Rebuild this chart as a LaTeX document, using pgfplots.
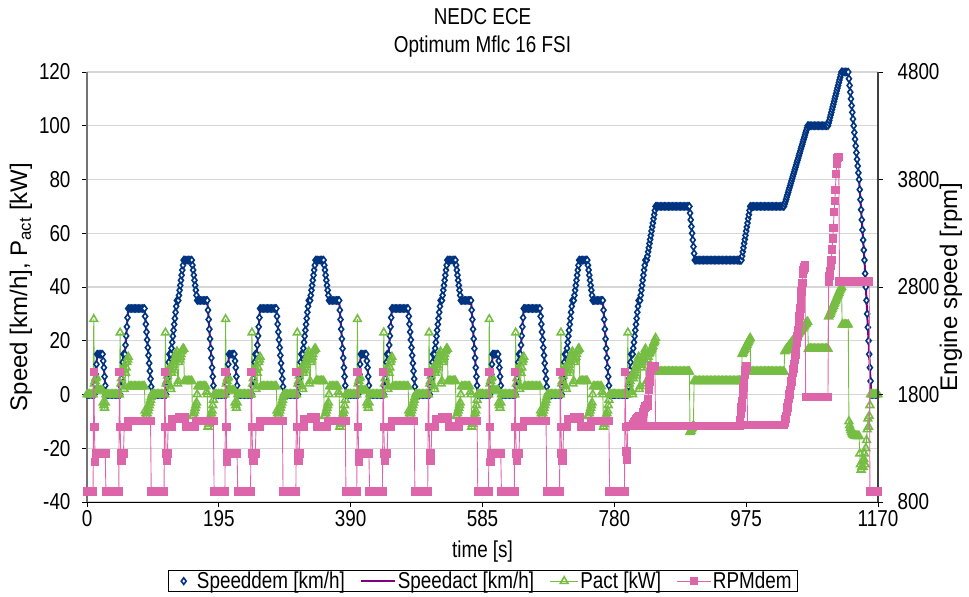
\documentclass[border=0pt]{standalone}
\usepackage{fontspec}
\setmainfont{Liberation Sans}[FakeStretch=0.82]
\newfontfamily\vfam{Liberation Sans}
\usepackage{pgfplots}
\pgfplotsset{compat=1.18}
\usepackage{pgfplotstable}

\definecolor{cdem}{RGB}{0,51,128}
\definecolor{cact}{RGB}{128,0,128}
\definecolor{cpow}{RGB}{118,190,67}
\definecolor{crpm}{RGB}{221,102,170}
\newcommand\fs{\fontsize{23bp}{26bp}\selectfont}
\newcommand\vs{\vfam\fontsize{24bp}{27bp}\selectfont}

% one ECE urban cycle (0-195 s), repeated four times: t, speed, power, rpm
\pgfplotstableread{
t v p r
0 0 0 900
2 0 0 900
4 0 0 900
6 0 0 900
8 0 0 900
9 0 0 900
10 0 28 2010
11 0 4 1500
12 3.75 5 1170
13 7.5 6 1250
14 11.25 6.5 1250
15 15 2 1250
16 15 1.5 1250
18 15 1.5 1250
20 15 1.5 1250
22 15 1.5 1250
23 15 1.5 1250
24 12.5 -3 1250
25 10 -4 1250
26 6.67 -5 1250
27 3.33 -3 1250
28 0 0 900
30 0 0 900
32 0 0 900
34 0 0 900
36 0 0 900
38 0 0 900
40 0 0 900
42 0 0 900
44 0 0 900
46 0 0 900
47 0 0 900
48 0 0 2010
49 0 23 1500
50 3 4 1250
51 6 6 1180
52 9 8 1250
53 12 9 1250
54 15 10 1250
55 15 2 1500
56 15 3 1500
57 18.4 8 1500
58 21.8 10 1500
59 25.2 12 1500
60 28.6 13 1500
61 32 14 1556
62 32 3 1556
64 32 3 1556
66 32 3 1556
68 32 3 1556
70 32 3 1556
72 32 3 1556
74 32 3 1556
76 32 3 1556
78 32 3 1556
80 32 3 1556
82 32 3 1556
84 32 3 1556
85 32 3 1556
86 29.09 -6 1556
87 26.18 -7 1556
88 23.27 -8 1556
89 20.36 -7 1556
90 17.45 -6 1556
91 14.55 -5 1556
92 11.64 -4 1556
93 8.73 -3 1556
94 5.82 -2 1556
95 2.91 -1 900
96 0 0 900
98 0 0 900
100 0 0 900
102 0 0 900
104 0 0 900
106 0 0 900
108 0 0 900
110 0 0 900
112 0 0 900
114 0 0 900
115 0 0 2010
116 0 23 1500
117 0 4 1250
118 3 5 1180
119 6 7 1250
120 9 8 1500
121 12 9 1500
122 15 10 1500
123 15 3 1500
124 15 2 1500
125 17.2 8 1500
126 19.4 9 1572
127 21.7 10 1572
128 23.9 11 1572
129 26.1 12 1572
130 28.3 13 1572
131 30.6 14 1572
132 32.8 15 1572
133 35 16 1572
134 35 4 1572
135 35 5 1572
136 36.9 12 1588
137 38.8 13 1588
138 40.6 14 1588
139 42.5 15 1588
140 44.4 16 1588
141 46.3 16.5 1588
142 48.1 17 1588
143 50 17 1588
144 50 5 1588
146 50 5 1503
148 50 5 1503
150 50 5 1503
152 50 5 1503
154 50 5 1503
155 50 5 1503
156 48.1 -8 1503
157 46.3 -8 1503
158 44.4 -7 1503
159 42.5 -6 1503
160 40.6 -5 1503
161 38.8 -4 1556
162 36.9 -3 1556
163 35 0 1556
164 35 3 1556
166 35 3 1556
168 35 3 1556
170 35 3 1556
172 35 3 1556
174 35 3 1556
176 35 3 1556
177 35 1 1556
178 35 0 1556
179 31.4 -12 1556
180 27.9 -11 1556
181 24.3 -10 1556
182 20.7 -9 1556
183 17.1 -8 1556
184 13.6 -7 1556
185 10 -6 1556
186 6.67 -4 1556
187 3.33 -2 1556
188 0 0 900
190 0 0 900
192 0 0 900
194 0 0 900
195 0 0 900
}\ece

% extra-urban part (780-1170 s)
\pgfplotstableread{
t v p r
780 0 0 900
782 0 0 900
784 0 0 900
786 0 0 900
788 0 0 900
790 0 0 900
792 0 0 900
794 0 0 900
795 0 0 900
796 0 0 2010
797 0 0 1500
798 0 0 1270
799 0 0 1190
800 0 23 1510
801 3 2 1510
802 6 4 1510
803 9 5 1510
804 12 6 1510
805 15 7 1510
806 15 1 1510
807 15 0 1510
808 17.2 6 1520
809 19.4 7 1530
810 21.7 8 1540
811 23.9 9 1550
812 26.1 10 1560
813 28.3 11 1570
814 30.6 12 1580
815 32.8 13 1590
816 35 14 1600
817 35 2 1510
818 35 3 1510
819 36.9 10 1560
820 38.8 11 1580
821 40.6 12 1600
822 42.5 13 1620
823 44.4 14 1640
824 46.3 15 1660
825 48.1 16 1680
826 50 17 1690
827 50 4 1510
828 50 5 1510
829 51.5 13 1700
830 53.1 14 1760
831 54.6 15 1840
832 56.2 15.5 1920
833 57.7 16 1990
834 59.2 16.5 2040
835 60.8 17 2060
836 62.3 17.5 2060
837 63.8 18 2060
838 65.4 19 2060
839 66.9 19.5 2060
840 68.5 20 2060
841 70 21 1510
842 70 8.5 1510
844 70 8.5 1510
846 70 8.5 1510
848 70 8.5 1510
850 70 8.5 1510
852 70 8.5 1510
854 70 8.5 1510
856 70 8.5 1510
858 70 8.5 1510
860 70 8.5 1510
862 70 8.5 1510
864 70 8.5 1510
866 70 8.5 1510
868 70 8.5 1510
870 70 8.5 1510
872 70 8.5 1510
874 70 8.5 1510
876 70 8.5 1510
878 70 8.5 1510
880 70 8.5 1510
882 70 8.5 1510
884 70 8.5 1510
886 70 8.5 1510
888 70 8.5 1510
890 70 8.5 1510
891 70 8.5 1510
892 67.5 -14 1510
893 65 -13.5 1510
894 62.5 -13 1510
895 60 -12.5 1510
896 57.5 -12 1510
897 55 -11.5 1510
898 52.5 5 1510
899 50 5 1510
900 50 5 1510
902 50 5 1510
904 50 5 1510
906 50 5 1510
908 50 5 1510
910 50 5 1510
912 50 5 1510
914 50 5 1510
916 50 5 1510
918 50 5 1510
920 50 5 1510
922 50 5 1510
924 50 5 1510
926 50 5 1510
928 50 5 1510
930 50 5 1510
932 50 5 1510
934 50 5 1510
936 50 5 1510
938 50 5 1510
940 50 5 1510
942 50 5 1510
944 50 5 1510
946 50 5 1510
948 50 5 1510
950 50 5 1510
952 50 5 1510
954 50 5 1510
956 50 5 1510
958 50 5 1510
960 50 5 1510
962 50 5 1510
964 50 5 1510
965 50 5 1510
966 50 5 1560
967 50 5 1620
968 50 5 1680
969 51.5 15 1740
970 53.1 15.5 1800
971 54.6 16 1860
972 56.2 16.5 1920
973 57.7 17 1980
974 59.2 17.5 2030
975 60.8 18 2060
976 62.3 18.5 2060
977 63.8 19 1516
978 65.4 19.5 1516
979 66.9 20 1516
980 68.5 20.5 1516
981 70 21 1516
982 70 8.5 1516
984 70 8.5 1516
986 70 8.5 1516
988 70 8.5 1516
990 70 8.5 1516
992 70 8.5 1516
994 70 8.5 1516
996 70 8.5 1516
998 70 8.5 1516
1000 70 8.5 1516
1002 70 8.5 1516
1004 70 8.5 1516
1006 70 8.5 1516
1008 70 8.5 1516
1010 70 8.5 1516
1012 70 8.5 1516
1014 70 8.5 1516
1016 70 8.5 1516
1018 70 8.5 1516
1020 70 8.5 1516
1022 70 8.5 1516
1024 70 8.5 1516
1026 70 8.5 1516
1028 70 8.5 1516
1030 70 8.5 1516
1031 70 8.5 1516
1032 70.86 16 1540
1033 71.71 16.3 1570
1034 72.57 16.6 1600
1035 73.43 17 1640
1036 74.29 17.3 1680
1037 75.14 17.6 1720
1038 76 18 1760
1039 76.86 18.3 1800
1040 77.71 18.6 1840
1041 78.57 19 1880
1042 79.43 19.3 1920
1043 80.29 19.6 1960
1044 81.14 20 2000
1045 82 20.3 2040
1046 82.86 20.6 2080
1047 83.71 21 2120
1048 84.57 21.3 2170
1049 85.43 21.6 2220
1050 86.29 22 2280
1051 87.14 22.3 2340
1052 88 22.6 2400
1053 88.86 23 2460
1054 89.71 23.3 2530
1055 90.57 23.6 2600
1056 91.43 24 2680
1057 92.29 24.3 2760
1058 93.14 24.6 2840
1059 94 25 2920
1060 94.86 25.3 2960
1061 95.71 25.6 2980
1062 96.57 26 3000
1063 97.43 26.3 1780
1064 98.29 26.6 1780
1065 99.14 27 1780
1066 100 27 1780
1067 100 17 1780
1068 100 17 1780
1070 100 17 1780
1072 100 17 1780
1074 100 17 1780
1076 100 17 1780
1078 100 17 1780
1080 100 17 1780
1082 100 17 1780
1084 100 17 1780
1086 100 17 1780
1088 100 17 1780
1090 100 17 1780
1092 100 17 1780
1094 100 17 1780
1096 100 17 1780
1097 101 29 2850
1098 102 29.5 2900
1099 103 30 2950
1100 104 30.6 3000
1101 105 31.2 3050
1102 106 31.8 3150
1103 107 32.4 3250
1104 108 33 3350
1105 109 33.6 3500
1106 110 34.2 3600
1107 111 34.8 3700
1108 112 35.4 3850
1109 113 36 3950
1110 114 36.6 4000
1111 115 37.2 4010
1112 116 37.8 4010
1113 117 38.4 2850
1114 118 39 2850
1115 119 39.5 2850
1116 120 40 2850
1117 120 26 2850
1118 120 26 2850
1120 120 26 2850
1122 120 26 2850
1124 120 26 2850
1126 120 26 2850
1127 117.5 -10 2850
1128 115 -11.5 2850
1129 112.5 -12.5 2850
1130 110 -13.3 2850
1131 107.5 -14 2850
1132 105 -14.5 2850
1133 102.5 -14.8 2850
1134 100 -15 2850
1135 97.5 -15.2 2850
1136 95 -15.3 2850
1137 92.5 -15.4 2850
1138 90 -15.5 2850
1139 87.5 -15.5 2850
1140 85 -15.5 2850
1141 82.5 -15.5 2850
1142 80 -15.5 2850
1143 76.25 -22 2850
1144 72.5 -26 2850
1145 68.75 -28 2850
1146 65 -27 2850
1147 61.25 -25 2850
1148 57.5 -27 2850
1149 53.75 -24 2850
1150 50 -22 2850
1151 45 -26 2850
1152 40 -20 2850
1153 35 -17 2850
1154 30 -13 2850
1155 25 -9 2850
1156 20 -12 2850
1157 15 -8 2850
1158 10 -4 900
1159 5 0 900
1160 0 0 900
1162 0 0 900
1164 0 0 900
1166 0 0 900
1168 0 0 900
1170 0 0 900
}\eudc

\pgfplotsset{
  dem/.style={only marks, mark=diamond*, mark size=3.3bp,
    mark options={draw=cdem, fill=white, line width=1.6bp}},
  act/.style={no marks, draw=cact, line width=2bp},
  pow/.style={draw=cpow, line width=0.9bp, mark=triangle, mark size=4.4bp,
    mark options={draw=cpow, line width=1.6bp}},
  rpm/.style={draw=crpm, line width=0.9bp, mark=square*, mark size=3.7bp,
    mark options={draw=crpm, fill=crpm}},
  short legend/.style={legend image code/.code={\path (0cm,0cm) (0.8cm,0cm);
    \draw[mark repeat=2,mark phase=2,##1]
    plot coordinates {(0cm,0cm) (0.4cm,0cm) (0.8cm,0cm)};}},
  mid legend/.style={legend image code/.code={\draw[mark repeat=2,mark phase=2,##1]
    plot coordinates {(0cm,0cm) (0.5cm,0cm) (1cm,0cm)};}},
  long legend/.style={legend image code/.code={\draw[mark repeat=2,mark phase=2,##1]
    plot coordinates {(0cm,0cm) (0.6cm,0cm) (1.2cm,0cm)};}},
  base/.style={at={(0,0)}, anchor=south west, scale only axis,
    width=791bp, height=430bp, xmin=0, xmax=1170,
    tick align=outside, major tick length=5bp,
    ticklabel style={font=\fs},
    /pgf/number format/.cd, 1000 sep={}, assume math mode=true},
}

\begin{document}
\begin{tikzpicture}
\useasboundingbox (-87bp,-95bp) rectangle (882bp,502bp);

\begin{axis}[base,
  ymin=-40, ymax=120,
  xtick={0,195,390,585,780,975,1170},
  ytick={-40,-20,0,20,40,60,80,100,120},
  yticklabel style={xshift=-8bp},
  axis x line*=bottom, axis y line*=left, tick pos=left,
  x axis line style={black, line width=1bp},
  y axis line style={black!55, line width=1.8bp},
  every tick/.style={black, line width=0.8bp},
  ymajorgrids, major grid style={draw=black!16, line width=1.2bp},
  xlabel={time [s]},
  xlabel style={font=\fs, at={(axis description cs:0.5,-0.116)}, anchor=center},
  ylabel={Speed [km/h], P\textsubscript{act} [kW]},
  ylabel style={font=\vs, at={(axis description cs:-0.0834,0.5)}, anchor=center},
]
\pgfplotsinvokeforeach{0,195,390,585}{
  \addplot[dem, forget plot] table[x expr=\thisrow{t}+#1, y=v] {\ece};
}
\addplot[dem, forget plot] table[x=t, y=v] {\eudc};
\pgfplotsinvokeforeach{0,195,390,585}{
  \addplot[act, forget plot] table[x expr=\thisrow{t}+#1, y=v] {\ece};
}
\addplot[act, forget plot] table[x=t, y=v] {\eudc};
\pgfplotsinvokeforeach{0,195,390,585}{
  \addplot[pow, forget plot] table[x expr=\thisrow{t}+#1, y=p] {\ece};
}
\addplot[pow, forget plot] table[x=t, y=p] {\eudc};
\end{axis}

\begin{axis}[base,
  ymin=800, ymax=4800,
  ytick={800,1800,2800,3800,4800},
  yticklabel style={xshift=11bp},
  axis x line=none, axis y line*=right, ytick pos=right,
  y axis line style={black!75, line width=1.4bp},
  every tick/.style={black, line width=0.8bp},
  ylabel={Engine speed [rpm]},
  ylabel style={font=\vs, at={(axis description cs:1.0923,0.5)}, anchor=center, rotate=0},
  legend columns=4,
  legend style={at={(axis description cs:0.5,-0.184)}, anchor=center,
    draw=black, line width=0.8bp, font=\fs, inner xsep=4bp, inner ysep=0bp,
    nodes={inner sep=1.5bp},
    /tikz/every even column/.append style={column sep=14bp}},
]
\addlegendimage{dem, short legend}
\addlegendimage{act, long legend}
\addlegendimage{pow, mid legend}
\pgfplotsinvokeforeach{0,195,390,585}{
  \addplot[rpm, forget plot] table[x expr=\thisrow{t}+#1, y=r] {\ece};
}
\addplot[rpm, long legend] table[x=t, y=r] {\eudc};
\legend{Speeddem [km/h], Speedact [km/h], Pact [kW], RPMdem}
\end{axis}

\node[font=\fs] at (395.5bp,485bp) {NEDC ECE};
\node[font=\fs] at (395.5bp,455bp) {Optimum Mflc 16 FSI};
\end{tikzpicture}
\end{document}
